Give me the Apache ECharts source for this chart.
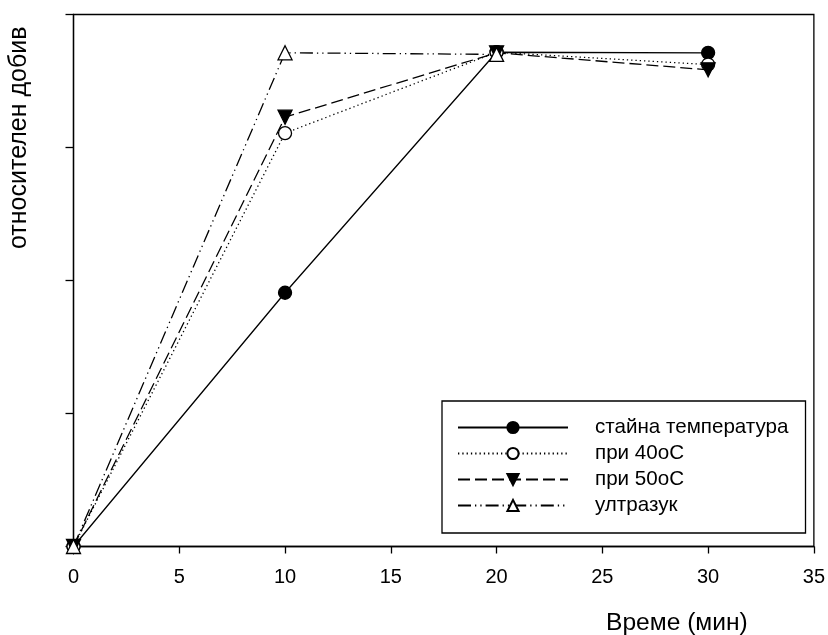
<!DOCTYPE html>
<html>
<head>
<meta charset="utf-8">
<script src="https://cdn.jsdelivr.net/npm/echarts@6/dist/echarts.min.js"></script>
<style>
html,body{margin:0;padding:0;background:#fff;}
#chart{width:828px;height:635px;}
</style>
</head>
<body>
<div id="chart"></div>
<script>
'use strict';

var FONT="Liberation Sans, Arial, sans-serif";

// време (мин)
var times=[0,10,20,30];
// относителен добив (%), отчетено от графиката
var roomTemp=[0,47.7,92.9,92.8];
var at40=[0,77.7,92.9,90.6];
var at50=[0,80.7,92.8,89.6];
var ultrasound=[0,92.8,92.5];

var names=["стайна температура","при 40оС","при 50оС","ултразук"];
var xTicks=[0,5,10,15,20,25,30,35];

function pairs(xs,ys){
    return ys.map(function(y,i){return [xs[i],y];});
}

function makeSeries(name,values,dash,symbol,fill,rotate){
    return {
        name:name,
        type:"line",
        data:pairs(times,values),
        symbol:symbol,
        symbolSize:symbol==="circle" ? 13 : 14,
        symbolRotate:rotate || 0,
        showAllSymbol:true,
        lineStyle:{color:"#000",width:1.3,type:dash},
        itemStyle:{color:fill,borderColor:"#000",borderWidth:1.3},
        emphasis:{disabled:true},
        animation:false
    };
}

var chart=echarts.init(document.getElementById("chart"));
chart.setOption({
    animation:false,
    grid:{left:73.5,right:14,top:14.5,bottom:88.5,show:true,borderColor:"#000",borderWidth:1.3},
    xAxis:{
        type:"value",min:0,max:35,interval:5,
        axisLine:{lineStyle:{color:"#000",width:1.3}},
        axisTick:{inside:false,length:7,lineStyle:{color:"#000",width:1.3}},
        axisLabel:{color:"#000",fontFamily:FONT,fontSize:20,margin:21,
            formatter:function(v){return xTicks.indexOf(v)>=0 ? String(v) : "";}},
        splitLine:{show:false}
    },
    yAxis:{
        type:"value",min:0,max:100,interval:25,
        axisLine:{show:true,lineStyle:{color:"#000",width:1.3}},
        axisTick:{show:true,inside:false,length:8,lineStyle:{color:"#000",width:1.3}},
        axisLabel:{show:false},
        splitLine:{show:false}
    },
    legend:{
        orient:"vertical",
        left:442,top:401,
        padding:[16,17,17,15],
        itemGap:5,
        itemWidth:110,itemHeight:14,
        borderColor:"#000",borderWidth:1.3,
        backgroundColor:"#fff",
        data:names,
        textStyle:{color:"#000",fontFamily:FONT,fontSize:20.6,lineHeight:21,padding:[0,0,0,22]}
    },
    graphic:[
        {type:"text",left:606,top:611,style:{text:"Време (мин)",fill:"#000",font:"24.6px "+FONT}},
        {type:"text",x:7,y:249,rotation:Math.PI/2,style:{text:"относителен добив",fill:"#000",font:"25px "+FONT,textVerticalAlign:"top"}}
    ],
    series:[
        makeSeries(names[0],roomTemp,"solid","circle","#000"),
        makeSeries(names[1],at40,[1.3,3],"circle","#fff"),
        makeSeries(names[2],at50,[12,5],"triangle","#000",180),
        makeSeries(names[3],ultrasound,[13,4,1.3,4,1.3,4],"triangle","#fff")
    ]
});
</script>
</body>
</html>
